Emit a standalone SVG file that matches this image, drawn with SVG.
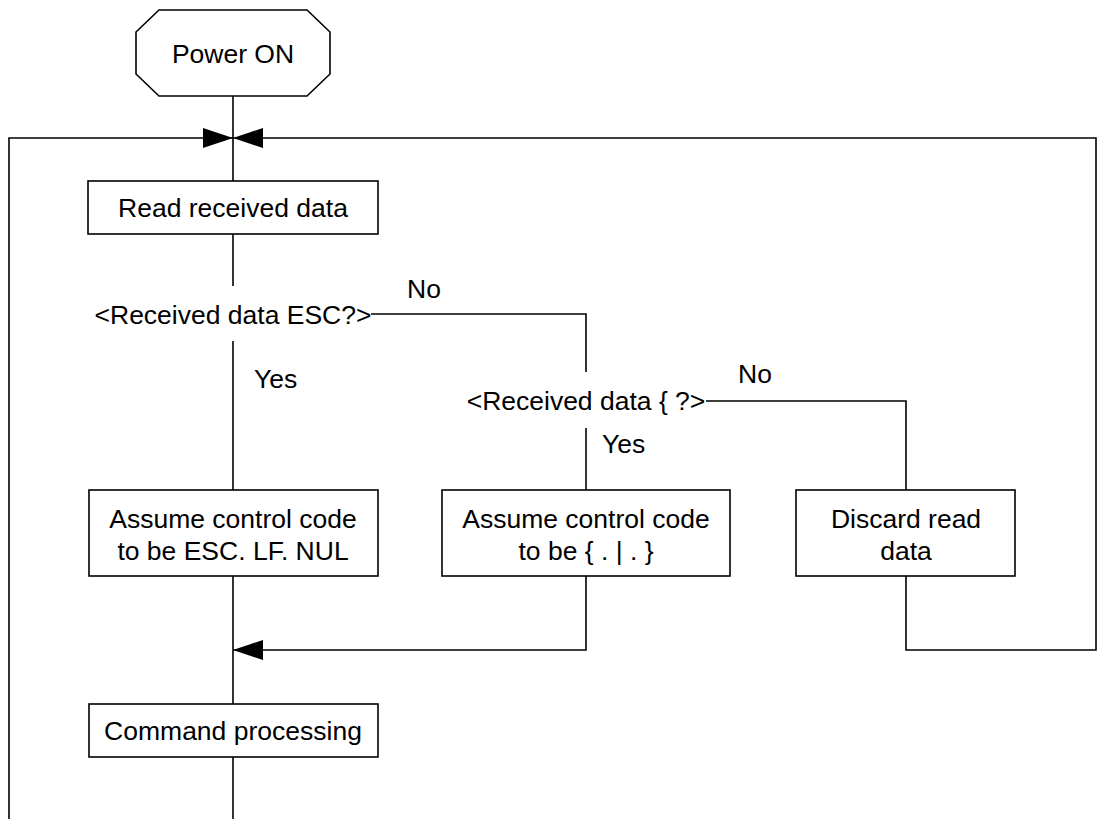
<svg xmlns="http://www.w3.org/2000/svg" width="1097" height="819" viewBox="0 0 1097 819">
<style>
.box{fill:#fff;stroke:#000;stroke-width:1.6}
.ln{fill:none;stroke:#000;stroke-width:1.6}
.t{font-family:"Liberation Sans",Arial,sans-serif;font-size:26.5px;fill:#000}
.c{text-anchor:middle}
</style>
<defs>
<marker id="ah" markerWidth="30" markerHeight="20" refX="30" refY="10" orient="auto" markerUnits="userSpaceOnUse">
<path d="M0,0 L30,10 L0,20 Z" fill="#000"/>
</marker>
</defs>
<rect width="1097" height="819" fill="#fff"/>
<g id="connectors">
<line class="ln" x1="233" y1="96" x2="233" y2="181"/>
<path class="ln" d="M9,819 V138 H233" marker-end="url(#ah)"/>
<path class="ln" d="M906,576 V650 H1096 V138 H233" marker-end="url(#ah)"/>
<line class="ln" x1="233" y1="234" x2="233" y2="286"/>
<line class="ln" x1="233" y1="341" x2="233" y2="490"/>
<path class="ln" d="M371,314 H586 V372"/>
<line class="ln" x1="586" y1="428" x2="586" y2="490"/>
<path class="ln" d="M706,401 H906 V490"/>
<line class="ln" x1="233" y1="576" x2="233" y2="704"/>
<path class="ln" d="M586,576 V650 H233" marker-end="url(#ah)"/>
<line class="ln" x1="233" y1="757" x2="233" y2="819"/>
</g>
<g id="power-on">
<path class="box" d="M159,10 H307 L330,32 V74 L307,96 H159 L136,74 V32 Z"/>
<text class="t c" x="233" y="63">Power ON</text>
</g>
<g id="read-data">
<rect class="box" x="88" y="181" width="290" height="53"/>
<text class="t c" x="233" y="217">Read received data</text>
</g>
<g id="decision-esc">
<text class="t c" x="233" y="324">&lt;Received data ESC?&gt;</text>
<text class="t" x="407" y="298">No</text>
<text class="t" x="254" y="388">Yes</text>
</g>
<g id="decision-brace">
<text class="t c" x="586" y="410">&lt;Received data { ?&gt;</text>
<text class="t" x="738" y="383">No</text>
<text class="t" x="602" y="453">Yes</text>
</g>
<g id="assume-esc">
<rect class="box" x="89" y="490" width="289" height="86"/>
<text class="t c" x="233" y="528">Assume control code</text>
<text class="t c" x="233" y="560">to be ESC. LF. NUL</text>
</g>
<g id="assume-brace">
<rect class="box" x="442" y="490" width="288" height="86"/>
<text class="t c" x="586" y="528">Assume control code</text>
<text class="t c" x="586" y="560">to be { . | . }</text>
</g>
<g id="discard">
<rect class="box" x="796" y="490" width="219" height="86"/>
<text class="t c" x="906" y="528">Discard read</text>
<text class="t c" x="906" y="560">data</text>
</g>
<g id="command">
<rect class="box" x="89" y="704" width="289" height="53"/>
<text class="t c" x="233" y="740">Command processing</text>
</g>
</svg>
